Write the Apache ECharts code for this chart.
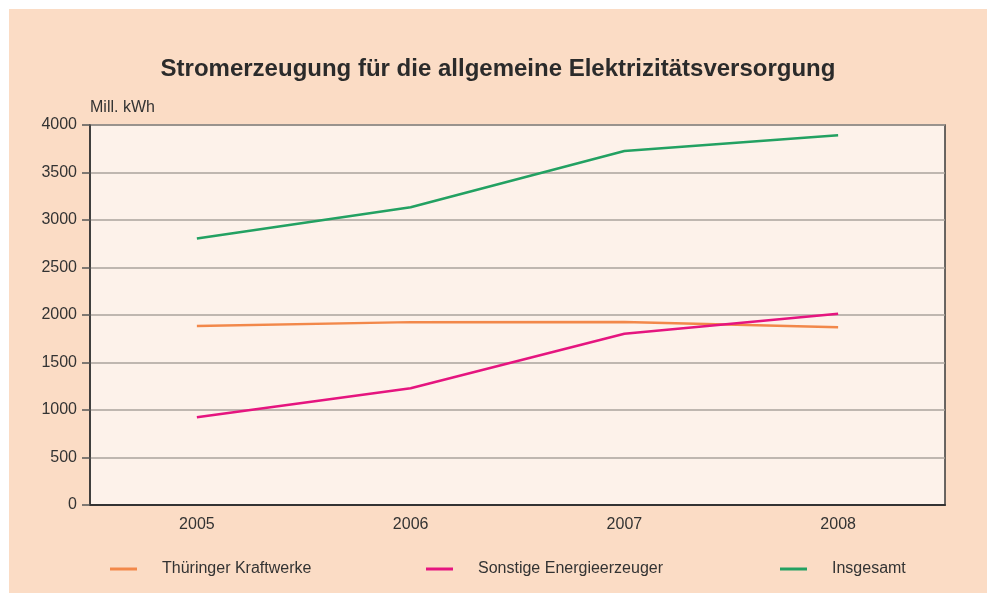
<!DOCTYPE html>
<html>
<head>
<meta charset="utf-8">
<script src="https://cdn.jsdelivr.net/npm/echarts@6/dist/echarts.min.js"></script>
<style>
  html, body { margin: 0; padding: 0; background: #ffffff; }
  #chart { position: absolute; left: 9px; top: 9px; width: 978px; height: 584px; }
</style>
</head>
<body>
<div id="chart"></div>
<script>
// Stromerzeugung, Mill. kWh
var years = ['2005', '2006', '2007', '2008'];
var kraftwerke = [1884, 1925, 1926, 1872];
var sonstige = [923, 1229, 1803, 2013];
var insgesamt = [2805, 3134, 3726, 3893];
var seriesNames = ['Thüringer Kraftwerke', 'Sonstige Energieerzeuger', 'Insgesamt'];
var seriesColors = ['#f2884a', '#e5157f', '#23a162'];

var font = 'Liberation Sans, Arial, sans-serif';
var myChart = echarts.init(document.getElementById('chart'));

function legendFor(i, left) {
    return {
        data: [seriesNames[i]],
        left: left,
        top: 547,
        icon: 'rect',
        itemWidth: 27,
        itemHeight: 3,
        textStyle: { color: '#333', fontSize: 16, fontFamily: font, padding: [0, 0, 0, 20] }
    };
}

var option = {
    backgroundColor: '#fbdcc5',
    animation: false,
    title: {
        text: 'Stromerzeugung für die allgemeine Elektrizitätsversorgung',
        left: 'center',
        top: 43,
        textStyle: { color: '#2b2b2b', fontSize: 24, fontWeight: 'bold', fontFamily: font }
    },
    legend: [legendFor(0, 96), legendFor(1, 412), legendFor(2, 766)],
    grid: {
        left: 81, right: 42, top: 116, bottom: 88,
        show: true,
        backgroundColor: '#fdf2ea',
        borderColor: '#3a3a3a',
        borderWidth: 1.5
    },
    xAxis: {
        type: 'category',
        data: years,
        boundaryGap: true,
        axisLine: { lineStyle: { color: '#333', width: 2 } },
        axisTick: { show: false },
        axisLabel: { color: '#333', fontSize: 16, fontFamily: font, margin: 12 }
    },
    yAxis: {
        type: 'value',
        min: 0, max: 4000, interval: 500,
        name: 'Mill. kWh',
        nameLocation: 'end',
        nameGap: 9,
        nameTextStyle: { color: '#333', fontSize: 16, fontFamily: font, align: 'left', verticalAlign: 'bottom' },
        axisLine: { show: true, lineStyle: { color: '#333', width: 1.5 } },
        axisTick: { show: true, length: 8, lineStyle: { color: '#555', width: 1.5 } },
        axisLabel: { color: '#333', fontSize: 16, fontFamily: font, margin: 13, formatter: function (v) { return String(v); } },
        splitLine: { lineStyle: { color: '#aaa39d', width: 1.5 } }
    },
    series: [
        { name: seriesNames[0], type: 'line', data: kraftwerke, symbol: 'none', color: seriesColors[0], lineStyle: { width: 2.5 } },
        { name: seriesNames[1], type: 'line', data: sonstige, symbol: 'none', color: seriesColors[1], lineStyle: { width: 2.5 } },
        { name: seriesNames[2], type: 'line', data: insgesamt, symbol: 'none', color: seriesColors[2], lineStyle: { width: 2.5 } }
    ]
};
myChart.setOption(option);
</script>
</body>
</html>
